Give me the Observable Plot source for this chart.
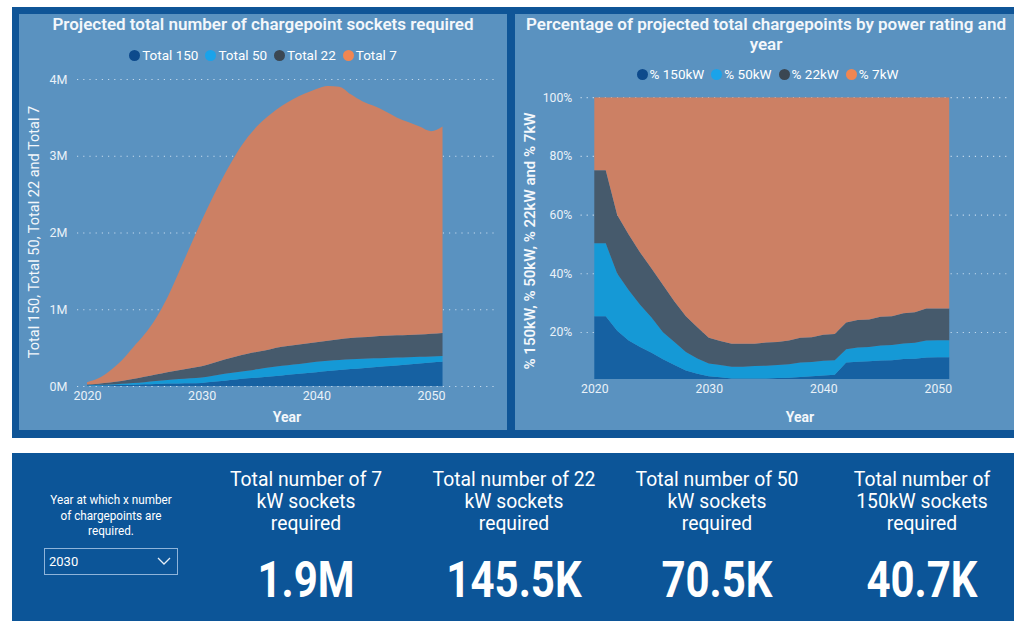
<!DOCTYPE html>
<html><head><meta charset="utf-8">
<script src="https://cdn.jsdelivr.net/npm/d3@7"></script>
<script src="https://cdn.jsdelivr.net/npm/@observablehq/plot@0.6"></script>
<style>
body{margin:0;width:1014px;height:621px;overflow:hidden;background:#fff;position:relative;font-family:Roboto,"Open Sans",sans-serif;color:#fff}
.abs{position:absolute}
.title{color:#f3f7fb;font-size:17px;font-weight:600;text-align:center;line-height:20px}
.legend{display:flex;justify-content:center;align-items:center;font-size:13.5px;color:#fff}
.legend .it{display:flex;align-items:center;margin:0 3.5px}
.legend .dot{width:11px;height:11px;border-radius:50%;margin-right:2px}
.ytitle{white-space:nowrap;font-size:14.5px;color:#f3f7fb;transform:translate(-50%,-50%) rotate(-90deg)}
.xtitle{font-size:14px;font-weight:700;color:#f3f7fb;transform:translate(-50%,-50%)}
.kpiT{font-size:21px;line-height:22px;text-align:center;width:240px;transform:translateX(-50%) scaleX(0.92);}
.kpiV{font-size:50px;font-weight:700;text-align:center;width:260px;transform:translate(-50%,-50%) scaleX(0.84);line-height:50px}
</style></head><body>
<div class="abs" style="left:12px;top:7px;width:1010px;height:431px;background:#0f5597"></div>
<div class="abs" style="left:19px;top:14px;width:488px;height:416px;background:#5a92c0"></div>
<div class="abs" style="left:515px;top:14px;width:510px;height:416px;background:#5a92c0"></div>
<div class="abs" style="left:12px;top:453px;width:1010px;height:170px;background:#0c5598"></div>

<div class="abs title" style="left:19px;top:14px;width:488px">Projected total number of chargepoint sockets required</div>
<div class="abs title" style="left:515px;top:14px;width:502px">Percentage of projected total chargepoints by power rating and<br>year</div>
<div id="legL" class="abs legend" style="left:19px;top:46px;width:488px;height:18px"></div>
<div id="legR" class="abs legend" style="left:515px;top:65px;width:505px;height:18px"></div>
<div class="abs ytitle" style="left:34px;top:232px">Total 150, Total 50, Total 22 and Total 7</div>
<div class="abs ytitle" style="left:530px;top:241px;font-weight:600;font-size:15px">% 150kW, % 50kW, % 22kW and % 7kW</div>
<div class="abs xtitle" style="left:287px;top:417px">Year</div>
<div class="abs xtitle" style="left:800px;top:417px">Year</div>
<div id="chartL" class="abs" style="left:19px;top:60px"></div>
<div id="chartR" class="abs" style="left:515px;top:60px"></div>

<div class="abs" style="left:111px;top:492px;width:170px;transform:translateX(-50%) scaleX(0.9);font-size:13px;line-height:15.5px;text-align:center">Year at which x number<br>of chargepoints are<br>required.</div>
<div class="abs" style="left:44px;top:548px;width:132px;height:25px;border:1px solid #8fb4da;font-size:13px;line-height:25px">
  <span style="margin-left:4px">2030</span>
  <svg style="position:absolute;right:6px;top:8px" width="14" height="9"><polyline points="1,1 7,7 13,1" fill="none" stroke="#e6eef7" stroke-width="1.3"/></svg>
</div>
<div id="kpis"></div>

<script>
const years = [2020,2021,2022,2023,2024,2025,2026,2027,2028,2029,2030,2031,2032,2033,2034,2035,2036,2037,2038,2039,2040,2041,2042,2043,2044,2045,2046,2047,2048,2049,2050,2051];
// thousands of sockets
const total150 = [5,7,10,13,17,22,27,31,34,37,40.7,55,70,85,100,112,125,138,152,166,180,195,208,220,232,244,256,268,280,292,305,315];
const total50 = [5,8,10,17,23,28,38,47,56,63,70.5,80,90,95,100,110,118,125,128,132,135,135,132,130,123,116,109,102,95,88,80,75];
const total22 = [10,15,25,35,50,70,85,102,115,130,145.5,165,185,205,220,228,237,247,250,252,255,260,270,275,280,285,290,290,290,290,295,300];
const total7 = [30,70,155,265,410,550,730,970,1275,1590,1900,2170,2415,2635,2820,2960,3060,3140,3210,3260,3300,3320,3290,3175,3075,3005,2925,2840,2775,2710,2640,2690];
// percentage shares
const pct150 = [25.4,25.4,20.4,17.1,14.9,12.9,10.7,8.8,6.9,5.8,4.9,4.6,4.2,4.2,4.2,4.2,4.3,4.4,4.7,4.9,5.2,5.4,9.6,9.9,10.0,10.3,10.4,10.8,10.9,11.3,11.4,11.4];
const pct50 = [24.8,24.8,19.5,17.2,14.4,12.0,9.2,7.8,6.3,5.2,4.4,4.2,4.0,4.0,4.2,4.3,4.5,4.6,4.9,4.9,5.0,5.0,4.5,4.8,4.9,5.1,5.2,5.3,5.4,5.8,5.8,5.8];
const pct22 = [24.9,24.9,20.0,18.9,17.8,16.7,16.1,13.8,12.2,10.6,8.7,8.1,7.8,7.8,7.6,7.9,7.8,8.1,8.4,8.4,8.9,8.9,9.1,9.4,9.4,9.8,9.8,10.3,10.4,10.9,10.8,10.8];
const pct7 = [24.9,24.9,40.1,46.8,52.9,58.4,64.0,69.6,74.6,78.4,82.0,83.1,84.0,84.0,84.0,83.6,83.4,82.9,82.0,81.8,80.9,80.7,76.8,75.9,75.7,74.8,74.6,73.6,73.3,72.0,72.0,72.0];

const seriesL = ["Total 150","Total 50","Total 22","Total 7"];
const seriesR = ["% 150kW","% 50kW","% 22kW","% 7kW"];
const areaColors = ["#1661a2","#1599d6","#465a6c","#cc8064"];
const legendColors = ["#0d4a8c","#1aa3ea","#3b4752","#f08652"];
const yTicksL = [0,1e6,2e6,3e6,4e6];
const yTicksR = [20,40,60,80,100];
const xTicks = [2020,2030,2040,2050];
const kpiTitles = ["Total number of 7<br>kW sockets<br>required","Total number of 22<br>kW sockets<br>required","Total number of 50<br>kW sockets<br>required","Total number of<br>150kW sockets<br>required"];
const kpiValues = ["1.9M","145.5K","70.5K","40.7K"];
const kpiCenters = [306,514,717,922];

const valsL = [total150,total50,total22,total7];
const dataL = years.flatMap((y,i)=>seriesL.map((s,k)=>({year:y,series:s,value:valsL[k][i]*1000})));
const valsR = [pct150,pct50,pct22,pct7];
const dataR = years.flatMap((y,i)=>seriesR.map((s,k)=>({year:y,series:s,value:valsR[k][i]})));

const txt = "#e9f1f8";
const gridStyle = {stroke:"#d6e6f4", strokeDasharray:"1.2,5", strokeWidth:1.2, strokeOpacity:0.85};

const left = Plot.plot({
  width:488, height:370, marginLeft:58, marginRight:10, marginTop:19, marginBottom:44,
  style:{background:"transparent", color:txt, fontFamily:"Roboto, sans-serif", fontSize:"12.5px", overflow:"visible"},
  x:{domain:[2019.13,2055.75], label:null},
  y:{domain:[0,4e6], label:null},
  color:{domain:seriesL, range:areaColors},
  marks:[
    Plot.gridY(yTicksL, gridStyle),
    Plot.areaY(dataL, {x:"year", y:"value", z:"series", fill:"series", order:seriesL, curve:"monotone-x"}),
    Plot.axisY(yTicksL, {tickFormat:d=>(d/1e6)+"M", tickSize:0, tickPadding:10, fill:txt, label:null}),
    Plot.axisX(xTicks, {tickFormat:d=>String(d), tickSize:0, tickPadding:5, fill:txt, label:null})
  ]
});
document.getElementById("chartL").appendChild(left);

const right = Plot.plot({
  width:510, height:370, marginLeft:67, marginRight:3, marginTop:38, marginBottom:44,
  style:{background:"transparent", color:txt, fontFamily:"Roboto, sans-serif", fontSize:"12.5px"},
  x:{domain:[2018.8,2056.4], label:null},
  y:{domain:[4,100], label:null},
  color:{domain:seriesR, range:areaColors},
  marks:[
    Plot.gridY(yTicksR, gridStyle),
    Plot.areaY(dataR, {x:"year", y:"value", z:"series", fill:"series", order:seriesR, clip:true}),
    Plot.axisY(yTicksR, {tickFormat:d=>d+"%", tickSize:0, tickPadding:9, fill:txt, label:null}),
    Plot.axisX(xTicks, {tickFormat:d=>String(d), tickSize:0, tickPadding:5, fill:txt, label:null})
  ]
});
document.getElementById("chartR").appendChild(right);

function legend(id, names){
  const el = document.getElementById(id);
  names.forEach((n,i)=>{
    const it = document.createElement("div"); it.className="it";
    it.innerHTML = `<span class="dot" style="background:${legendColors[i]}"></span><span>${n}</span>`;
    el.appendChild(it);
  });
}
legend("legL", seriesL);
legend("legR", seriesR);

const kp = document.getElementById("kpis");
kpiTitles.forEach((t,i)=>{
  const a = document.createElement("div"); a.className="abs kpiT";
  a.style.left = kpiCenters[i]+"px"; a.style.top = "468px"; a.innerHTML = t; kp.appendChild(a);
  const b = document.createElement("div"); b.className="abs kpiV";
  b.style.left = kpiCenters[i]+"px"; b.style.top = "580px"; b.textContent = kpiValues[i]; kp.appendChild(b);
});
</script>
</body></html>
